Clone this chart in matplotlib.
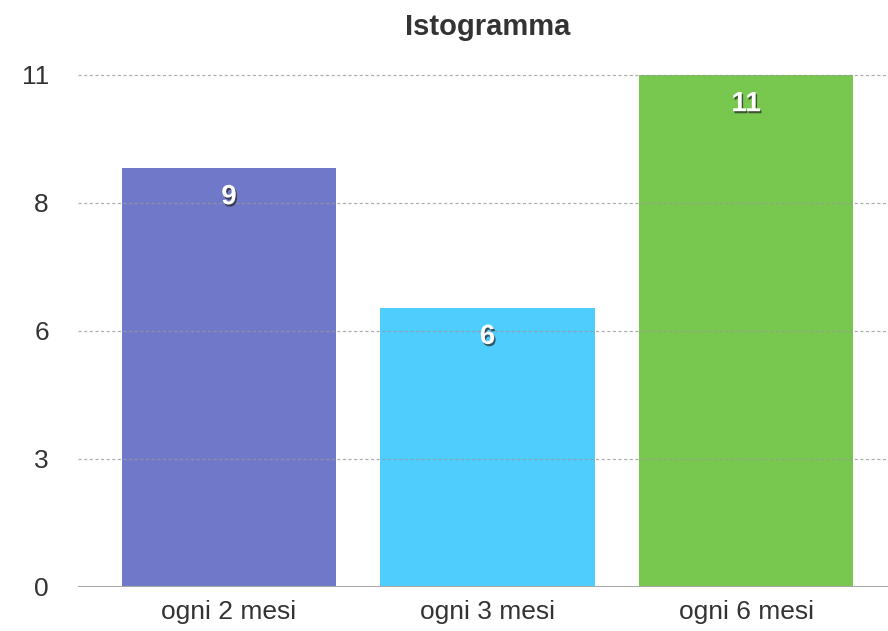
import matplotlib.pyplot as plt
import matplotlib.patheffects as pe
import numpy as np

plt.rcParams['font.family'] = ['Liberation Sans', 'DejaVu Sans']

# data
categorie = ['ogni 2 mesi', 'ogni 3 mesi', 'ogni 6 mesi']
valori = [9, 6, 11]
colori = ['#7079c9', '#4fcdfd', '#78c850']
tick_val = [0, 2.75, 5.5, 8.25, 11]
tick_lab = ['0', '3', '6', '8', '11']

fig = plt.figure(figsize=(8.88, 6.31), dpi=100)
ax = fig.add_axes([78 / 888, 1 - 587 / 631, 1 - 78 / 888, (587 - 75) / 631])

x = np.arange(len(categorie))
ax.bar(x, valori, width=0.83, color=colori, zorder=2)

# grid (dotted) and base line
for t in tick_val[1:]:
    ax.axhline(t, color='#9a9a9a', lw=0.9, ls=(0, (2.5, 2)), alpha=0.8, zorder=3, clip_on=False)
ax.axhline(0, color='#a8a8a8', lw=1.5, zorder=3)

# value labels with shadow
for xi, v in zip(x, valori):
    ax.annotate(str(v), (xi, v), xytext=(0, -21), textcoords='offset points',
                ha='center', va='center', color='white', fontsize=20, fontweight='bold', zorder=5,
                path_effects=[pe.SimplePatchShadow(offset=(1, -1.5), shadow_rgbFace='#222222', alpha=0.7),
                              pe.Normal()])

ax.set_xlim(-0.584, 2.549)
ax.set_ylim(0, 11)
ax.set_yticks(tick_val)
ax.set_yticklabels(tick_lab, fontsize=19, color='#333333')
ax.set_xticks(x)
ax.set_xticklabels(categorie, fontsize=19, color='#333333')
ax.tick_params(axis='y', length=0, pad=21)
ax.tick_params(axis='x', length=0, pad=9)
for s in ax.spines.values():
    s.set_visible(False)

fig.text(488 / 888, 1 - 27 / 631, 'Istogramma', ha='center', va='center',
         fontsize=21, fontweight='bold', color='#333333')

fig.savefig('out.png', dpi=100)
